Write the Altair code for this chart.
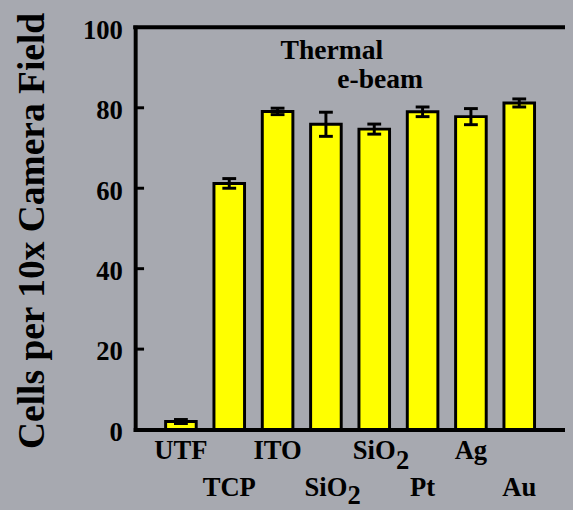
import altair as alt
import pandas as pd

categories = ["UTF", "TCP", "ITO", "SiO2 thermal", "SiO2 e-beam", "Pt", "Ag", "Au"]
labels = ["UTF", "TCP", "ITO", "SiO", "SiO", "Pt", "Ag", "Au"]
label_subs = ["", "", "", "2", "2", "", "", ""]
values = [2.0, 61.2, 79.1, 75.9, 74.7, 79.0, 77.8, 81.2]
errors = [0.5, 1.2, 0.8, 3.0, 1.25, 1.2, 2.0, 1.0]
y_ticks = [0, 20, 40, 60, 80, 100]
inner_ticks = [20, 40, 60, 80]
ann_text = ["Thermal", "e-beam"]
ann_cat = ["SiO2 thermal", "SiO2 e-beam"]
ann_y = [92.2, 84.8]

FONT = "Liberation Serif"
BG = "#A7A9B0"

df = pd.DataFrame({"cat": categories, "lab": labels, "sub": label_subs,
                   "val": values, "err": errors})
df_ticks = pd.DataFrame({"t": inner_ticks})
df_top = pd.DataFrame({"t": [100]})
df_ann = pd.DataFrame({"cat": ann_cat, "txt": ann_text, "y": ann_y})

xscale = alt.Scale(domain=categories, paddingInner=0.367, paddingOuter=0.63)
X = alt.X("cat:N", sort=categories, scale=xscale,
          axis=alt.Axis(labels=False, ticks=False, title=None, domainWidth=4,
                        domainColor="black", domainCap="square"))
yscale = alt.Scale(domain=[0, 100])

bars = alt.Chart(df).mark_bar(color="#FFFF00", stroke="black", strokeWidth=3).encode(
    x=X,
    y=alt.Y("val:Q", scale=yscale,
            axis=alt.Axis(values=y_ticks, labelFont=FONT, labelFontSize=27,
                          labelFontWeight="bold", labelColor="black",
                          labelPadding=13, labelOffset=3, ticks=False, tickSize=0,
                          domainWidth=4, domainColor="black", domainCap="square",
                          grid=False, title="Cells per 10x Camera Field",
                          titleFont=FONT, titleFontSize=38, titleFontWeight="bold",
                          titleColor="black", titleX=-93, titleY=206,
                          titleAngle=270, titleAlign="center",
                          titleBaseline="alphabetic")),
)

err_base = alt.Chart(df).transform_calculate(
    lo="datum.val - datum.err", hi="datum.val + datum.err")
err_line = err_base.mark_rule(color="black", strokeWidth=3).encode(
    x=X, y=alt.Y("lo:Q", scale=yscale), y2="hi:Q")
cap_lo = err_base.mark_tick(color="black", size=14, thickness=3, opacity=1).encode(
    x=X, y=alt.Y("lo:Q", scale=yscale))
cap_hi = err_base.mark_tick(color="black", size=14, thickness=3, opacity=1).encode(
    x=X, y=alt.Y("hi:Q", scale=yscale))

top_rule = alt.Chart(df_top).mark_rule(color="black", strokeWidth=4,
                                       strokeCap="square").encode(
    y=alt.Y("t:Q", scale=yscale))
in_ticks = alt.Chart(df_ticks).mark_rule(color="black", strokeWidth=3).encode(
    y=alt.Y("t:Q", scale=yscale), x=alt.value(0), x2=alt.value(9))

lab_base = alt.Chart(df).transform_window(idx="row_number()")
text_style = dict(font=FONT, fontSize=27, fontWeight="bold", color="black",
                  baseline="alphabetic")


def row_layers(parity, y_main, y_sub):
    base = lab_base.transform_filter(f"datum.idx % 2 == {parity}")
    main = base.mark_text(align="center", **text_style).encode(
        x=X, y=alt.value(y_main), text="lab:N")
    sub = base.transform_filter("datum.sub != ''").mark_text(
        align="left", dx=22, **text_style).encode(
        x=X, y=alt.value(y_sub), text="sub:N")
    return [main, sub]


labels_layers = row_layers(1, 438, 448) + row_layers(0, 475, 484)

ann = alt.Chart(df_ann).mark_text(align="center", dx=6, font=FONT, fontSize=28,
                                  fontWeight="bold", color="black",
                                  baseline="alphabetic").encode(
    x=X, y=alt.Y("y:Q", scale=yscale), text="txt:N")

chart = alt.layer(bars, err_line, cap_lo, cap_hi, top_rule, in_ticks, ann,
                  *labels_layers).properties(
    width=436, height=408,
    autosize=alt.AutoSizeParams(type="none"),
    padding={"left": 129, "top": 16, "right": 0, "bottom": 80},
    background=BG,
).configure_view(stroke=None)

chart.save("out.html", embed_options={"renderer": "svg", "actions": False,
                                      "defaultStyle": "html,body{background:%s;}" % BG})
